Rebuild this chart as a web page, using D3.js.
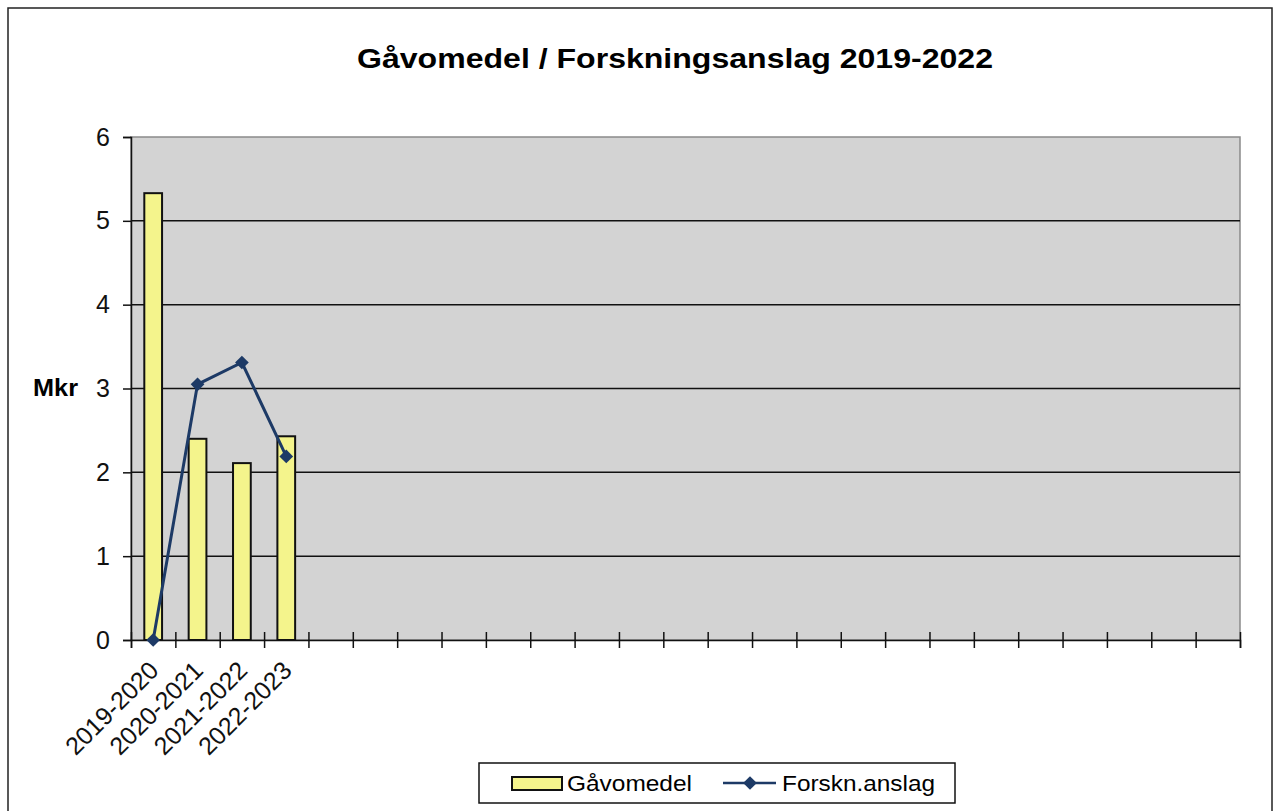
<!DOCTYPE html>
<html>
<head>
<meta charset="utf-8">
<script src="https://cdn.jsdelivr.net/npm/d3@7"></script>
<style>
  body { margin: 0; background: #fff; }
  text { font-family: Arial, "Liberation Sans", sans-serif; }
</style>
</head>
<body>
<svg id="Diagram"></svg>
<script>
// data (Mkr)
var titleText = "Gåvomedel / Forskningsanslag 2019-2022";
var categories = ["2019-2020", "2020-2021", "2021-2022", "2022-2023"];
var slotCount = 25; // the original sheet keeps 25 category slots, the rest are empty
var gavomedel = [5.33, 2.40, 2.11, 2.43];
var forskning = [0, 3.05, 3.31, 2.19];
var yTicks = [0, 1, 2, 3, 4, 5, 6];
var seriesNames = ["Gåvomedel", "Forskn.anslag"];

var width = 1275, height = 811;
var margin = {left: 131, right: 35, top: 137, bottom: 171};
var W = width - margin.left - margin.right, H = height - margin.top - margin.bottom;

var svg = d3.select("#Diagram")
    .attr("width", width)
    .attr("height", height);

svg.append("rect").attr("width", width).attr("height", height).attr("fill", "#fff");

// outer chart border
svg.append("rect")
    .attr("x", 8).attr("y", 8)
    .attr("width", 1264).attr("height", 830)
    .attr("fill", "none").attr("stroke", "#222").attr("stroke-width", 1.5);

// title
svg.append("text")
    .attr("x", 675).attr("y", 68)
    .attr("text-anchor", "middle")
    .attr("font-size", 28).attr("font-weight", "bold")
    .attr("textLength", 636).attr("lengthAdjust", "spacingAndGlyphs")
    .text(titleText);

var g = svg.append("g").attr("transform", "translate(" + margin.left + "," + margin.top + ")");

var slots = d3.range(slotCount);
var x = d3.scaleBand().domain(slots).range([0, W]).padding(0);
var xEdge = d3.scaleLinear().domain([0, slotCount]).range([0, W]);
var y = d3.scaleLinear().domain([0, 6]).range([H, 0]);

// plot background
g.append("rect")
    .attr("width", W).attr("height", H)
    .attr("fill", "#d3d3d3")
    .attr("stroke", "#8a8a8a").attr("stroke-width", 1.5);

// gridlines
g.append("g")
    .selectAll("line")
    .data(yTicks.filter(function(d) { return d > 0 && d < 6; }))
    .enter()
    .append("line")
    .attr("x1", 0).attr("x2", W)
    .attr("y1", function(d) { return y(d); })
    .attr("y2", function(d) { return y(d); })
    .attr("stroke", "#111").attr("stroke-width", 1.5);

// Y axis
var yAxis = g.append("g")
    .call(d3.axisLeft(y).tickValues(yTicks).tickFormat(d3.format("d")).tickSize(8).tickPadding(13));
yAxis.selectAll("text").attr("font-size", 25).attr("fill", "#111").attr("font-family", "Arial, 'Liberation Sans', sans-serif");
yAxis.selectAll("line, path").attr("stroke", "#111").attr("stroke-width", 1.5);

svg.append("text")
    .attr("x", 33).attr("y", 396)
    .attr("font-size", 24).attr("font-weight", "bold")
    .attr("textLength", 45).attr("lengthAdjust", "spacingAndGlyphs")
    .text("Mkr");

// bars
var barW = x.bandwidth() / 2.5;
g.append("g")
    .selectAll("rect")
    .data(gavomedel)
    .enter()
    .append("rect")
    .attr("x", function(d, i) { return x(i) + (x.bandwidth() - barW) / 2; })
    .attr("y", function(d) { return y(d); })
    .attr("width", barW)
    .attr("height", function(d) { return H - y(d); })
    .attr("fill", "#f4f48c")
    .attr("stroke", "#111").attr("stroke-width", 2);

// X axis (cross ticks on category boundaries)
var xAxis = g.append("g")
    .attr("transform", "translate(0," + H + ")")
    .call(d3.axisBottom(xEdge).tickValues(d3.range(slotCount + 1)).tickSize(8).tickFormat(""));
xAxis.selectAll(".tick line").attr("y1", -8).attr("y2", 8);
xAxis.selectAll("line, path").attr("stroke", "#111").attr("stroke-width", 1.5);

// category labels, rotated
g.append("g")
    .selectAll("text")
    .data(categories)
    .enter()
    .append("text")
    .attr("transform", function(d, i) {
        return "translate(" + (x(i) + x.bandwidth() / 2 + 7) + "," + (H + 32) + ") rotate(-45)";
    })
    .attr("text-anchor", "end")
    .attr("font-size", 25)
    .attr("fill", "#111")
    .text(function(d) { return d; });

// line series
var lineColor = "#1d3a66";
var line = d3.line()
    .x(function(d, i) { return x(i) + x.bandwidth() / 2; })
    .y(function(d) { return y(d); });

g.append("path")
    .datum(forskning)
    .attr("d", line)
    .attr("fill", "none")
    .attr("stroke", lineColor).attr("stroke-width", 3);

var diamond = d3.symbol().type(d3.symbolDiamond2).size(120);
g.append("g")
    .selectAll("path")
    .data(forskning)
    .enter()
    .append("path")
    .attr("d", diamond)
    .attr("transform", function(d, i) { return "translate(" + (x(i) + x.bandwidth() / 2) + "," + y(d) + ")"; })
    .attr("fill", lineColor);

// legend
var legend = svg.append("g");
legend.append("rect")
    .attr("x", 479).attr("y", 763)
    .attr("width", 476).attr("height", 40)
    .attr("fill", "#fff").attr("stroke", "#111").attr("stroke-width", 1.5);
legend.append("rect")
    .attr("x", 512).attr("y", 777)
    .attr("width", 50).attr("height", 13)
    .attr("fill", "#f4f48c").attr("stroke", "#111").attr("stroke-width", 2);
legend.append("text")
    .attr("x", 567).attr("y", 791)
    .attr("font-size", 22)
    .attr("textLength", 125).attr("lengthAdjust", "spacingAndGlyphs")
    .text(seriesNames[0]);
legend.append("line")
    .attr("x1", 723).attr("x2", 776)
    .attr("y1", 783).attr("y2", 783)
    .attr("stroke", lineColor).attr("stroke-width", 2.5);
legend.append("path")
    .attr("d", diamond)
    .attr("transform", "translate(750,783)")
    .attr("fill", lineColor);
legend.append("text")
    .attr("x", 782).attr("y", 791)
    .attr("font-size", 22)
    .attr("textLength", 153).attr("lengthAdjust", "spacingAndGlyphs")
    .text(seriesNames[1]);
</script>
</body>
</html>
